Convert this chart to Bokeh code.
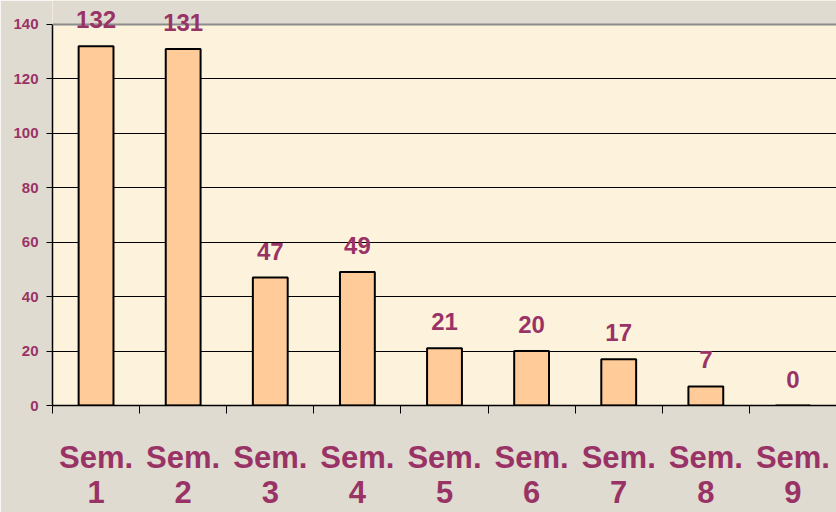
from bokeh.plotting import figure
from bokeh.models import ColumnDataSource, FixedTicker, LabelSet, Range1d, Span
from bokeh.core.properties import value
from bokeh.embed import file_html
from bokeh.resources import INLINE

categories = ["Sem.\n1", "Sem.\n2", "Sem.\n3", "Sem.\n4", "Sem.\n5", "Sem.\n6", "Sem.\n7", "Sem.\n8", "Sem.\n9"]
values = [132, 131, 47, 49, 21, 20, 17, 7, 0]
y_ticks = [0, 20, 40, 60, 80, 100, 120, 140]
y_max = 140

PURPLE = "#993366"
FONT = "Liberation Sans"
BORDER = "#E0DBD1"

# axis 0..140 spans 383px; leave 24px of headroom above it for the value labels
y_end = y_max + 24 * y_max / 383.0

xs = [i + 0.5 for i in range(len(categories))]
src = ColumnDataSource(dict(x=xs, top=values, lbl=[str(v) for v in values]))

p = figure(width=836, height=512, output_backend="svg", toolbar_location=None,
           x_range=Range1d(0, len(categories)), y_range=Range1d(0, y_end),
           min_border_left=52, min_border_right=0, min_border_top=0, min_border_bottom=105)
p.border_fill_color = BORDER
p.background_fill_color = "#FDF3DC"
p.outline_line_color = None

# headroom above the plot area keeps the page colour
p.quad(left=[0], right=[len(categories)], bottom=[y_max], top=[y_end],
       fill_color=BORDER, line_color=None)
p.add_layout(Span(location=y_max, dimension="width", line_color="#8c8c8c", line_width=2))

p.vbar(x="x", top="top", width=0.4, bottom=0, source=src,
       fill_color="#FFCC99", line_color="black", line_width=2)

labels = LabelSet(x="x", y="top", text="lbl", source=src, text_align="center",
                  text_baseline="bottom", y_offset=18, text_color=PURPLE,
                  text_font=value(FONT), text_font_size="24px", text_font_style="bold")
p.add_layout(labels)

# y axis
p.yaxis.ticker = FixedTicker(ticks=y_ticks)
p.yaxis.bounds = (0, y_max)
p.yaxis.axis_line_color = "black"
p.yaxis.axis_line_width = 1.5
p.yaxis.major_tick_out = 6
p.yaxis.major_tick_in = 0
p.yaxis.minor_tick_line_color = None
p.yaxis.major_label_text_color = PURPLE
p.yaxis.major_label_text_font = FONT
p.yaxis.major_label_text_font_size = "15px"
p.yaxis.major_label_text_font_style = "bold"
p.yaxis.major_label_standoff = 8

# x axis
p.xaxis.ticker = FixedTicker(ticks=xs, minor_ticks=list(range(len(categories) + 1)))
p.xaxis.major_label_overrides = {x: c for x, c in zip(xs, categories)}
p.xaxis.axis_line_color = "black"
p.xaxis.axis_line_width = 1.5
p.xaxis.major_tick_line_color = None
p.xaxis.minor_tick_line_color = "black"
p.xaxis.minor_tick_out = 8
p.xaxis.minor_tick_in = 0
p.xaxis.major_label_text_color = PURPLE
p.xaxis.major_label_text_font = FONT
p.xaxis.major_label_text_font_size = "31px"
p.xaxis.major_label_text_font_style = "bold"
p.xaxis.major_label_text_line_height = 1.0
p.xaxis.major_label_standoff = 26

p.xgrid.grid_line_color = None
p.ygrid.ticker = FixedTicker(ticks=y_ticks[:-1])
p.ygrid.grid_line_color = "black"
p.ygrid.grid_line_width = 1

open("out.html", "w").write(file_html(p, INLINE))
